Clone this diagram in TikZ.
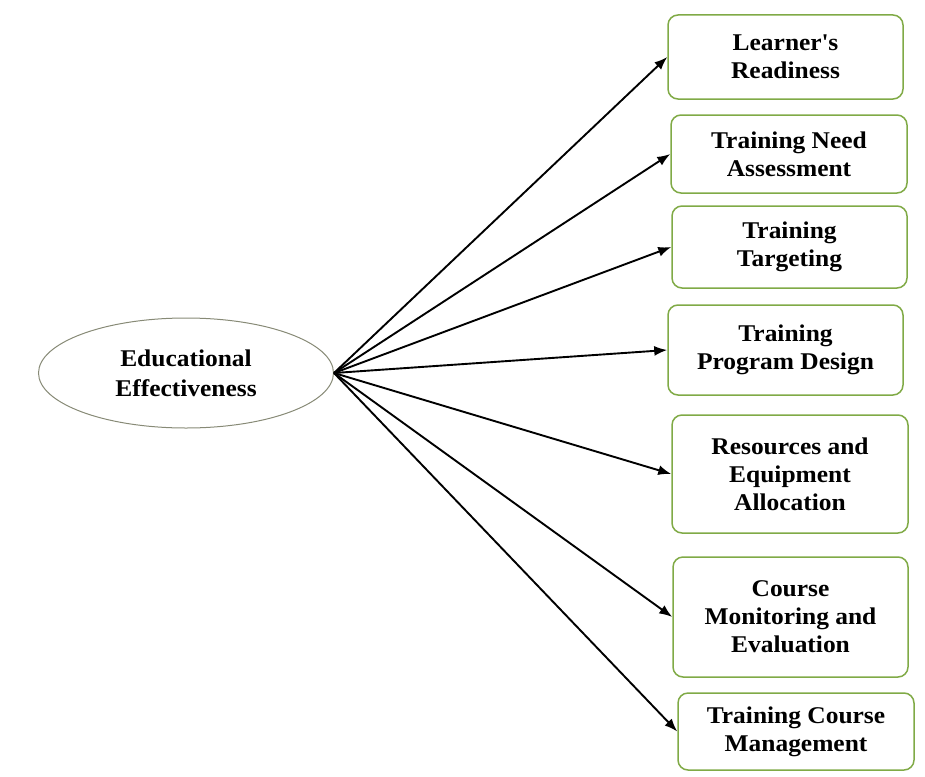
\documentclass[tikz,border=0pt]{standalone}
\usepackage{fontspec}
\setmainfont{Liberation Serif}[FakeStretch=1.06]
\usetikzlibrary{arrows.meta,shapes.geometric}
\definecolor{boxgreen}{RGB}{128,170,70}
\definecolor{ovalgray}{RGB}{135,138,118}
\tikzset{
  factor/.style 2 args={draw=boxgreen,line width=1.5pt,rounded corners=10pt,
    minimum width=#1,minimum height=#2,inner sep=0pt,align=center,
    font=\bfseries\fontsize{24}{28}\selectfont}, % right-hand boxes
  goal/.style={ellipse,draw=ovalgray,line width=1pt,minimum width=295pt,
    minimum height=110pt,inner sep=0pt,align=center,
    font=\bfseries\fontsize{24}{30}\selectfont}, % the oval
  link/.style={-{Latex[length=13pt,width=10pt]},line width=1.9pt,black},
}
\begin{document}
\begin{tikzpicture}[x=1pt,y=-1pt]

		\useasboundingbox (0,0) rectangle (925,776);

		\node[goal] (edu) at (186,373) {Educational\\Effectiveness};

		\node[factor={235pt}{84pt}]  (ready)   at (785.5,57)  {Learner\textquotesingle s\\Readiness};
		\node[factor={236pt}{78pt}]  (need)    at (789,154)   {Training Need\\Assessment};
		\node[factor={235pt}{82pt}]  (target)  at (789.5,247) {Training\\Targeting};
		\node[factor={235pt}{90pt}]  (design)  at (785.5,350) {Training\\Program Design};
		\node[factor={236pt}{118pt}] (alloc)   at (790,474)   {Resources and\\Equipment\\Allocation};
		\node[factor={235pt}{120pt}] (monitor) at (790.5,617) {Course\\Monitoring and\\Evaluation};
		\node[factor={236pt}{77pt}]  (manage)  at (796,731.5) {Training Course\\Management};

		\foreach \b in {ready,need,target,design,alloc,monitor,manage}
			\draw[link] (edu.east) -- (\b.west);

\end{tikzpicture}
\end{document}
